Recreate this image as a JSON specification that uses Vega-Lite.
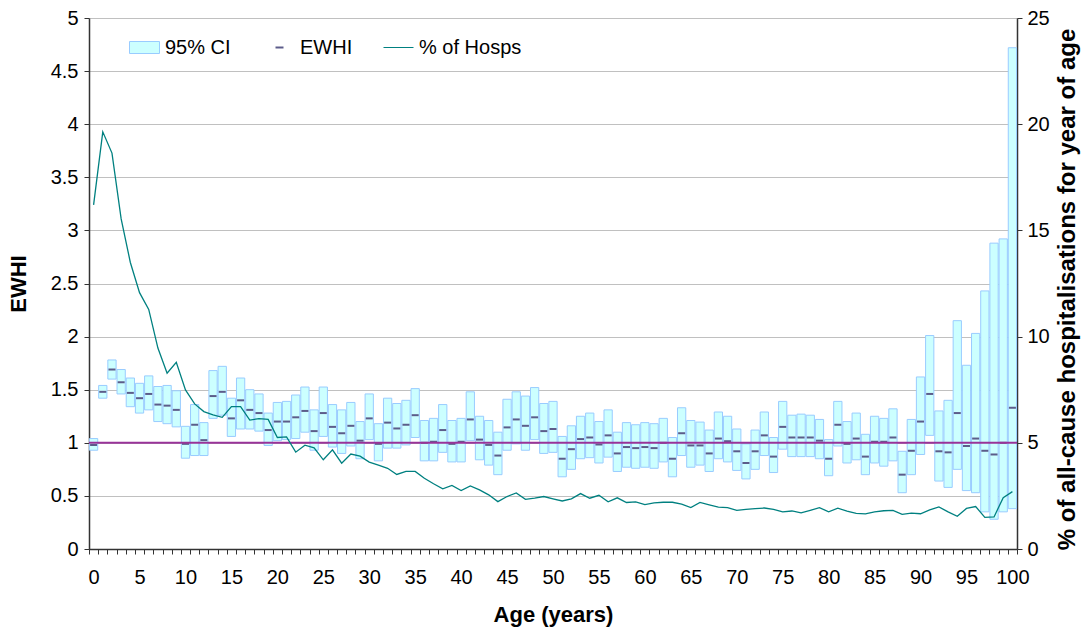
{
  "$schema": "https://vega.github.io/schema/vega-lite/v6.json",
  "width": 928,
  "height": 531,
  "autosize": {"type": "none"},
  "padding": {"left": 89, "top": 18, "right": 65, "bottom": 81},
  "background": "white",
  "config": {
    "font": "Liberation Sans",
    "view": {"stroke": null},
    "axis": {"labelFont": "Liberation Sans", "titleFont": "Liberation Sans", "labelColor": "#000000", "titleColor": "#000000", "domainColor": "#333333", "domainWidth": 1.5, "tickColor": "#333333", "tickWidth": 1, "labelFontSize": 20, "titleFontSize": 22, "titleFontWeight": "bold"},
    "legend": {"labelFont": "Liberation Sans", "labelFontSize": 20, "labelColor": "#000000", "padding": 0, "orient": "none", "symbolSize": 400, "labelOffset": 10, "symbolStrokeWidth": 1}
  },
  "data": {"values": [
    {"age": 0, "hi": 1.04, "lo": 0.93, "ewhi": 0.98, "pct": 16.2},
    {"age": 1, "hi": 1.54, "lo": 1.42, "ewhi": 1.48, "pct": 19.64},
    {"age": 2, "hi": 1.78, "lo": 1.60, "ewhi": 1.69, "pct": 18.64},
    {"age": 3, "hi": 1.69, "lo": 1.46, "ewhi": 1.57, "pct": 15.54},
    {"age": 4, "hi": 1.61, "lo": 1.34, "ewhi": 1.47, "pct": 13.49},
    {"age": 5, "hi": 1.56, "lo": 1.28, "ewhi": 1.42, "pct": 12.07},
    {"age": 6, "hi": 1.63, "lo": 1.31, "ewhi": 1.46, "pct": 11.28},
    {"age": 7, "hi": 1.53, "lo": 1.20, "ewhi": 1.36, "pct": 9.46},
    {"age": 8, "hi": 1.54, "lo": 1.18, "ewhi": 1.35, "pct": 8.28},
    {"age": 9, "hi": 1.49, "lo": 1.15, "ewhi": 1.31, "pct": 8.79},
    {"age": 10, "hi": 1.155, "lo": 0.855, "ewhi": 0.99, "pct": 7.49},
    {"age": 11, "hi": 1.36, "lo": 0.88, "ewhi": 1.17, "pct": 6.83},
    {"age": 12, "hi": 1.19, "lo": 0.88, "ewhi": 1.025, "pct": 6.47},
    {"age": 13, "hi": 1.68, "lo": 1.23, "ewhi": 1.44, "pct": 6.31},
    {"age": 14, "hi": 1.72, "lo": 1.26, "ewhi": 1.48, "pct": 6.20},
    {"age": 15, "hi": 1.42, "lo": 1.06, "ewhi": 1.23, "pct": 6.70},
    {"age": 16, "hi": 1.61, "lo": 1.13, "ewhi": 1.40, "pct": 6.70},
    {"age": 17, "hi": 1.50, "lo": 1.13, "ewhi": 1.31, "pct": 6.07},
    {"age": 18, "hi": 1.46, "lo": 1.11, "ewhi": 1.28, "pct": 6.14},
    {"age": 19, "hi": 1.28, "lo": 0.975, "ewhi": 1.12, "pct": 6.10},
    {"age": 20, "hi": 1.38, "lo": 1.02, "ewhi": 1.20, "pct": 5.25},
    {"age": 21, "hi": 1.39, "lo": 1.03, "ewhi": 1.20, "pct": 5.28},
    {"age": 22, "hi": 1.45, "lo": 1.04, "ewhi": 1.24, "pct": 4.56},
    {"age": 23, "hi": 1.525, "lo": 1.10, "ewhi": 1.30, "pct": 4.89},
    {"age": 24, "hi": 1.31, "lo": 0.93, "ewhi": 1.11, "pct": 4.76},
    {"age": 25, "hi": 1.525, "lo": 1.06, "ewhi": 1.28, "pct": 4.20},
    {"age": 26, "hi": 1.36, "lo": 0.96, "ewhi": 1.15, "pct": 4.67},
    {"age": 27, "hi": 1.31, "lo": 0.90, "ewhi": 1.09, "pct": 4.04},
    {"age": 28, "hi": 1.38, "lo": 0.97, "ewhi": 1.16, "pct": 4.47},
    {"age": 29, "hi": 1.20, "lo": 0.85, "ewhi": 1.02, "pct": 4.37},
    {"age": 30, "hi": 1.46, "lo": 1.03, "ewhi": 1.23, "pct": 4.09},
    {"age": 31, "hi": 1.18, "lo": 0.83, "ewhi": 0.99, "pct": 3.95},
    {"age": 32, "hi": 1.42, "lo": 0.95, "ewhi": 1.19, "pct": 3.80},
    {"age": 33, "hi": 1.37, "lo": 0.95, "ewhi": 1.135, "pct": 3.51},
    {"age": 34, "hi": 1.40, "lo": 0.98, "ewhi": 1.17, "pct": 3.65},
    {"age": 35, "hi": 1.51, "lo": 1.05, "ewhi": 1.26, "pct": 3.65},
    {"age": 36, "hi": 1.21, "lo": 0.83, "ewhi": 1.00, "pct": 3.33},
    {"age": 37, "hi": 1.23, "lo": 0.83, "ewhi": 1.01, "pct": 3.07},
    {"age": 38, "hi": 1.36, "lo": 0.91, "ewhi": 1.12, "pct": 2.83},
    {"age": 39, "hi": 1.21, "lo": 0.82, "ewhi": 0.99, "pct": 2.99},
    {"age": 40, "hi": 1.23, "lo": 0.82, "ewhi": 1.01, "pct": 2.75},
    {"age": 41, "hi": 1.48, "lo": 1.02, "ewhi": 1.22, "pct": 2.97},
    {"age": 42, "hi": 1.25, "lo": 0.84, "ewhi": 1.03, "pct": 2.78},
    {"age": 43, "hi": 1.21, "lo": 0.79, "ewhi": 0.98, "pct": 2.55},
    {"age": 44, "hi": 1.10, "lo": 0.70, "ewhi": 0.88, "pct": 2.23},
    {"age": 45, "hi": 1.41, "lo": 0.93, "ewhi": 1.145, "pct": 2.47},
    {"age": 46, "hi": 1.48, "lo": 0.99, "ewhi": 1.22, "pct": 2.64},
    {"age": 47, "hi": 1.44, "lo": 0.93, "ewhi": 1.16, "pct": 2.34},
    {"age": 48, "hi": 1.52, "lo": 1.03, "ewhi": 1.24, "pct": 2.40},
    {"age": 49, "hi": 1.37, "lo": 0.90, "ewhi": 1.11, "pct": 2.47},
    {"age": 50, "hi": 1.39, "lo": 0.91, "ewhi": 1.13, "pct": 2.36},
    {"age": 51, "hi": 1.06, "lo": 0.68, "ewhi": 0.85, "pct": 2.26},
    {"age": 52, "hi": 1.16, "lo": 0.75, "ewhi": 0.94, "pct": 2.36},
    {"age": 53, "hi": 1.25, "lo": 0.85, "ewhi": 1.035, "pct": 2.61},
    {"age": 54, "hi": 1.28, "lo": 0.86, "ewhi": 1.05, "pct": 2.39},
    {"age": 55, "hi": 1.20, "lo": 0.81, "ewhi": 0.985, "pct": 2.53},
    {"age": 56, "hi": 1.31, "lo": 0.865, "ewhi": 1.07, "pct": 2.22},
    {"age": 57, "hi": 1.10, "lo": 0.73, "ewhi": 0.90, "pct": 2.41},
    {"age": 58, "hi": 1.19, "lo": 0.77, "ewhi": 0.96, "pct": 2.19},
    {"age": 59, "hi": 1.17, "lo": 0.76, "ewhi": 0.95, "pct": 2.22},
    {"age": 60, "hi": 1.19, "lo": 0.77, "ewhi": 0.96, "pct": 2.09},
    {"age": 61, "hi": 1.18, "lo": 0.76, "ewhi": 0.95, "pct": 2.17},
    {"age": 62, "hi": 1.23, "lo": 0.82, "ewhi": 1.00, "pct": 2.20},
    {"age": 63, "hi": 1.05, "lo": 0.68, "ewhi": 0.85, "pct": 2.20},
    {"age": 64, "hi": 1.33, "lo": 0.88, "ewhi": 1.09, "pct": 2.11},
    {"age": 65, "hi": 1.21, "lo": 0.77, "ewhi": 0.975, "pct": 1.95},
    {"age": 66, "hi": 1.195, "lo": 0.79, "ewhi": 0.975, "pct": 2.19},
    {"age": 67, "hi": 1.12, "lo": 0.73, "ewhi": 0.90, "pct": 2.08},
    {"age": 68, "hi": 1.29, "lo": 0.85, "ewhi": 1.04, "pct": 1.97},
    {"age": 69, "hi": 1.25, "lo": 0.82, "ewhi": 1.015, "pct": 1.95},
    {"age": 70, "hi": 1.13, "lo": 0.74, "ewhi": 0.92, "pct": 1.82},
    {"age": 71, "hi": 0.99, "lo": 0.66, "ewhi": 0.81, "pct": 1.87},
    {"age": 72, "hi": 1.12, "lo": 0.75, "ewhi": 0.92, "pct": 1.90},
    {"age": 73, "hi": 1.29, "lo": 0.88, "ewhi": 1.07, "pct": 1.93},
    {"age": 74, "hi": 1.05, "lo": 0.72, "ewhi": 0.87, "pct": 1.87},
    {"age": 75, "hi": 1.39, "lo": 0.94, "ewhi": 1.15, "pct": 1.75},
    {"age": 76, "hi": 1.26, "lo": 0.87, "ewhi": 1.05, "pct": 1.79},
    {"age": 77, "hi": 1.27, "lo": 0.87, "ewhi": 1.05, "pct": 1.70},
    {"age": 78, "hi": 1.26, "lo": 0.87, "ewhi": 1.05, "pct": 1.82},
    {"age": 79, "hi": 1.22, "lo": 0.85, "ewhi": 1.02, "pct": 1.95},
    {"age": 80, "hi": 1.03, "lo": 0.69, "ewhi": 0.85, "pct": 1.75},
    {"age": 81, "hi": 1.39, "lo": 0.97, "ewhi": 1.17, "pct": 1.92},
    {"age": 82, "hi": 1.20, "lo": 0.81, "ewhi": 0.99, "pct": 1.78},
    {"age": 83, "hi": 1.28, "lo": 0.84, "ewhi": 1.04, "pct": 1.68},
    {"age": 84, "hi": 1.08, "lo": 0.70, "ewhi": 0.87, "pct": 1.65},
    {"age": 85, "hi": 1.25, "lo": 0.81, "ewhi": 1.01, "pct": 1.75},
    {"age": 86, "hi": 1.23, "lo": 0.78, "ewhi": 1.01, "pct": 1.80},
    {"age": 87, "hi": 1.32, "lo": 0.83, "ewhi": 1.05, "pct": 1.82},
    {"age": 88, "hi": 0.92, "lo": 0.53, "ewhi": 0.70, "pct": 1.63},
    {"age": 89, "hi": 1.22, "lo": 0.70, "ewhi": 0.925, "pct": 1.69},
    {"age": 90, "hi": 1.62, "lo": 0.89, "ewhi": 1.20, "pct": 1.66},
    {"age": 91, "hi": 2.01, "lo": 1.07, "ewhi": 1.46, "pct": 1.84},
    {"age": 92, "hi": 1.30, "lo": 0.64, "ewhi": 0.92, "pct": 1.98},
    {"age": 93, "hi": 1.40, "lo": 0.58, "ewhi": 0.91, "pct": 1.75},
    {"age": 94, "hi": 2.15, "lo": 0.75, "ewhi": 1.28, "pct": 1.54},
    {"age": 95, "hi": 1.73, "lo": 0.55, "ewhi": 0.97, "pct": 1.91},
    {"age": 96, "hi": 2.03, "lo": 0.53, "ewhi": 1.04, "pct": 2.00},
    {"age": 97, "hi": 2.43, "lo": 0.35, "ewhi": 0.925, "pct": 1.49},
    {"age": 98, "hi": 2.88, "lo": 0.28, "ewhi": 0.89, "pct": 1.51},
    {"age": 99, "hi": 2.92, "lo": 0.35, "ewhi": 1.00, "pct": 2.42},
    {"age": 100, "hi": 4.72, "lo": 0.38, "ewhi": 1.33, "pct": 2.70}
  ]},
  "layer": [
    {
      "layer": [
        {
          "mark": {"type": "bar", "stroke": "#99CCFF", "strokeWidth": 1, "width": {"band": 0.9}, "opacity": 1},
          "encoding": {
            "x": {"field": "age", "type": "ordinal", "scale": {"paddingInner": 0, "paddingOuter": 0},
              "axis": {"title": "Age (years)", "labelAngle": 0, "labelExpr": "datum.value % 5 === 0 ? datum.label : ''", "labelOverlap": false, "tickBand": "extent", "tickSize": 5, "labelPadding": 13, "titlePadding": 17}},
            "y": {"field": "hi", "type": "quantitative", "scale": {"domain": [0, 5], "nice": false},
              "axis": {"title": "EWHI", "values": [0, 0.5, 1, 1.5, 2, 2.5, 3, 3.5, 4, 4.5, 5], "format": "~g", "grid": true, "gridColor": "#C0C0C0", "gridWidth": 1, "tickSize": 5, "labelPadding": 6, "titlePadding": 20}},
            "y2": {"field": "lo"},
            "color": {"datum": "95% CI", "type": "nominal", "scale": {"range": ["#CCFFFF"]},
              "legend": {"title": null, "symbolType": "M-1.5,-0.6H1.5V0.6H-1.5Z", "legendX": 45, "legendY": 19}}
          }
        },
        {
          "mark": {"type": "tick", "thickness": 2, "size": 7, "opacity": 1},
          "encoding": {
            "x": {"field": "age", "type": "ordinal"},
            "y": {"field": "ewhi", "type": "quantitative"},
            "color": {"datum": "EWHI", "type": "nominal", "scale": {"range": ["#5C5C8A"]},
              "legend": {"title": null, "symbolType": "M-0.4,-0.1H0.4V0.1H-0.4Z", "legendX": 180, "legendY": 19}}
          }
        },
        {
          "data": {"values": [{"ref": 1}]},
          "mark": {"type": "rule", "color": "#993399", "strokeWidth": 2},
          "encoding": {"y": {"field": "ref", "type": "quantitative"}}
        }
      ],
      "resolve": {"scale": {"color": "independent"}, "legend": {"color": "independent"}}
    },
    {
      "mark": {"type": "line", "strokeWidth": 1.3},
      "encoding": {
        "x": {"field": "age", "type": "ordinal"},
        "y": {"field": "pct", "type": "quantitative", "scale": {"domain": [0, 25], "nice": false},
          "axis": {"orient": "right", "title": "% of all-cause hospitalisations for year of age", "titleFontSize": 24, "titleAngle": 270, "titleX": 50, "titleY": 271, "titleAlign": "center", "titleBaseline": "middle", "values": [0, 5, 10, 15, 20, 25], "grid": false, "tickSize": 5, "labelPadding": 5}},
        "color": {"datum": "% of Hosps", "type": "nominal", "scale": {"range": ["#008080"]},
          "legend": {"title": null, "symbolType": "M-1.5,0H1.5", "legendX": 299, "legendY": 19}}
      }
    }
  ],
  "resolve": {"scale": {"y": "independent", "color": "independent"}, "axis": {"y": "independent"}, "legend": {"color": "independent"}}
}
